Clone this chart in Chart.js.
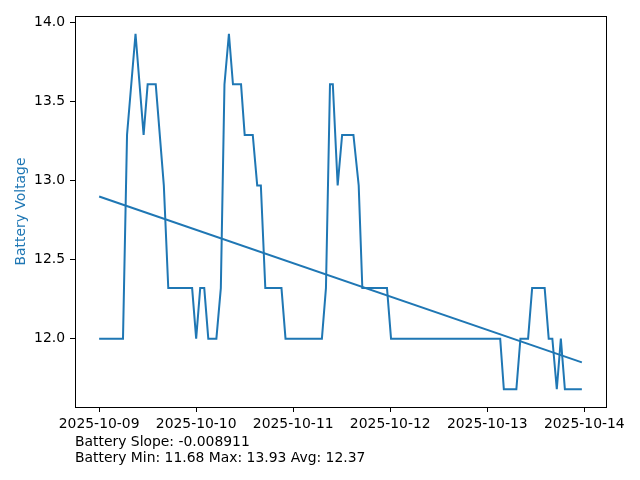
<!DOCTYPE html>
<html>
<head>
<meta charset="utf-8">
<script src="https://cdn.jsdelivr.net/npm/chart.js@4/dist/chart.umd.min.js"></script>
<style>
  html, body { margin: 0; padding: 0; background: #fff; }
  #wrap { position: relative; width: 640px; height: 480px; }
  #notes {
    position: absolute; left: 75px; top: 433px;
    font-family: "DejaVu Sans", sans-serif; font-size: 13.9px; line-height: 16px; color: #000;
  }
</style>
</head>
<body>
<div id="wrap">
  <canvas id="chart" width="640" height="480"></canvas>
  <div id="notes">
    <div>Battery Slope: -0.008911</div>
    <div>Battery Min: 11.68 Max: 13.93 Avg: 12.37</div>
  </div>
</div>
<script>
const times = [
  '2025-10-09T00:00', '2025-10-09T05:54', '2025-10-09T06:54', '2025-10-09T09:00',
  '2025-10-09T11:00', '2025-10-09T12:00', '2025-10-09T14:00', '2025-10-09T16:00',
  '2025-10-09T17:06', '2025-10-09T23:00', '2025-10-10T00:00', '2025-10-10T01:00',
  '2025-10-10T02:00', '2025-10-10T03:00', '2025-10-10T05:00', '2025-10-10T06:06',
  '2025-10-10T07:00', '2025-10-10T08:06', '2025-10-10T09:06', '2025-10-10T11:06',
  '2025-10-10T12:00', '2025-10-10T14:00', '2025-10-10T15:06', '2025-10-10T16:00',
  '2025-10-10T17:06', '2025-10-10T21:06', '2025-10-10T22:06', '2025-10-11T07:06',
  '2025-10-11T08:06', '2025-10-11T09:06', '2025-10-11T09:48', '2025-10-11T11:00',
  '2025-10-11T12:06', '2025-10-11T14:54', '2025-10-11T16:12', '2025-10-11T17:06',
  '2025-10-11T23:12', '2025-10-12T00:12', '2025-10-13T03:12', '2025-10-13T04:06',
  '2025-10-13T07:12', '2025-10-13T08:12', '2025-10-13T10:06', '2025-10-13T11:06',
  '2025-10-13T14:12', '2025-10-13T15:12', '2025-10-13T16:06', '2025-10-13T17:12',
  '2025-10-13T18:12', '2025-10-13T19:12', '2025-10-13T23:24',
];
const voltage = [
  12.00, 12.00, 13.29, 13.93, 13.29, 13.61, 13.61, 12.97,
  12.32, 12.32, 12.00, 12.32, 12.32, 12.00, 12.00, 12.32,
  13.61, 13.93, 13.61, 13.61, 13.29, 13.29, 12.97, 12.97,
  12.32, 12.32, 12.00, 12.00, 12.32, 13.61, 13.61, 12.97,
  13.29, 13.29, 12.97, 12.32, 12.32, 12.00, 12.00, 11.68,
  11.68, 12.00, 12.00, 12.32, 12.32, 12.00, 12.00, 11.68,
  12.00, 11.68, 11.68,
];
// trend line value at the first and last sample
const trend = [12.90, 11.85];
const dayTicks = ['2025-10-09', '2025-10-10', '2025-10-11', '2025-10-12', '2025-10-13', '2025-10-14'];
const voltTicks = [12.0, 12.5, 13.0, 13.5, 14.0];

const base = Date.parse(times[0] + 'Z');
const hours = t => (Date.parse(t + 'Z') - base) / 3600000;
const xs = times.map(hours);
const dayHours = dayTicks.map(d => hours(d + 'T00:00'));

const xMinData = xs[0], xMaxData = xs[xs.length - 1];
const xPad = (xMaxData - xMinData) * 0.05;
const yMinData = Math.min(...voltage), yMaxData = Math.max(...voltage);
const yPad = (yMaxData - yMinData) * 0.05;

const font = { family: 'DejaVu Sans', size: 13.9 };
const blue = '#1f77b4';

const frame = {
  id: 'frame',
  afterDraw(chart) {
    const { ctx, chartArea: a } = chart;
    ctx.save();
    ctx.strokeStyle = '#000';
    ctx.lineWidth = 1;
    ctx.strokeRect(Math.round(a.left) + 0.5, Math.round(a.top) + 0.5,
      Math.round(a.right - a.left), Math.round(a.bottom - a.top));
    ctx.restore();
  }
};

new Chart(document.querySelector('#chart').getContext('2d'), {
  type: 'line',
  data: {
    datasets: [
      {
        label: 'Battery Voltage',
        data: xs.map((x, i) => ({ x: x, y: voltage[i] })),
        borderColor: blue,
        borderWidth: 2,
        pointRadius: 0,
        tension: 0,
      },
      {
        label: 'Trend',
        data: [{ x: xMinData, y: trend[0] }, { x: xMaxData, y: trend[1] }],
        borderColor: blue,
        borderWidth: 2,
        pointRadius: 0,
      },
    ],
  },
  options: {
    responsive: false,
    animation: false,
    layout: { padding: { left: 0, top: 16, right: 34, bottom: 0 } },
    plugins: { legend: { display: false }, tooltip: { enabled: false } },
    scales: {
      x: {
        type: 'linear',
        min: xMinData - xPad,
        max: xMaxData + xPad,
        afterBuildTicks: s => { s.ticks = dayHours.map(v => ({ value: v })); },
        afterFit: s => { s.height = 73; },
        ticks: {
          color: '#000', font: font, padding: 4, maxRotation: 0, autoSkip: false,
          callback: (v) => dayTicks[dayHours.indexOf(v)],
        },
        grid: { drawOnChartArea: false, color: '#000', tickLength: 5 },
        border: { color: '#000', width: 1 },
      },
      y: {
        min: yMinData - yPad,
        max: yMaxData + yPad,
        afterBuildTicks: s => { s.ticks = voltTicks.map(v => ({ value: v })); },
        afterFit: s => { s.width = 75; },
        ticks: {
          color: '#000', font: font, padding: 5,
          callback: v => v.toFixed(1),
        },
        grid: { drawOnChartArea: false, color: '#000', tickLength: 5 },
        border: { color: '#000', width: 1 },
        title: { display: true, text: 'Battery Voltage', color: blue, font: font, padding: { top: 13, bottom: 0 } },
      },
    },
  },
  plugins: [frame],
});
</script>
</body>
</html>
